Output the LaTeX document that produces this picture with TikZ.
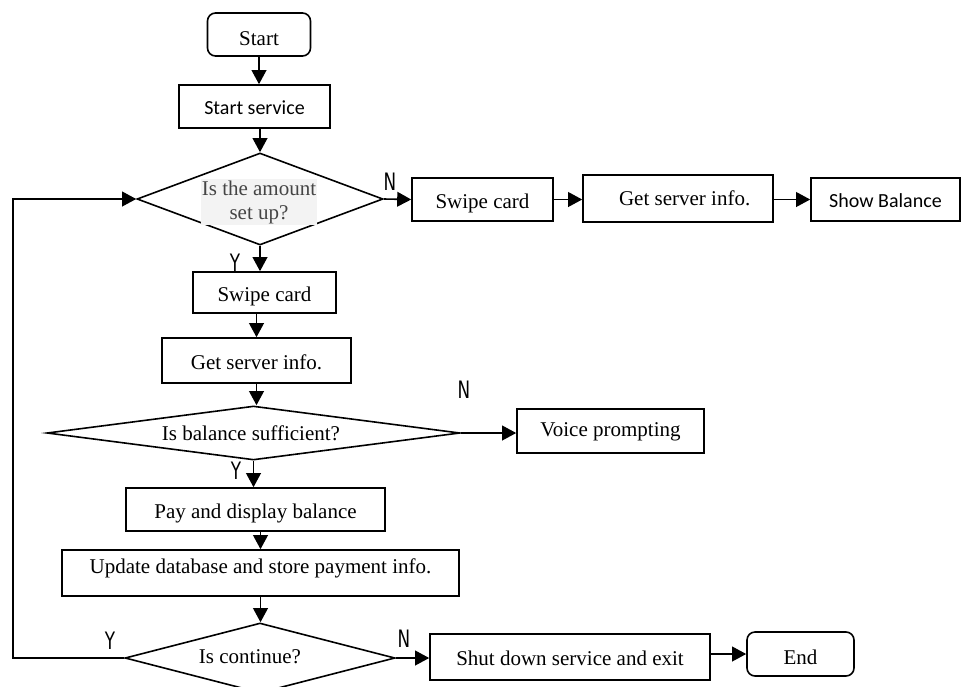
\documentclass[tikz,border=0pt]{standalone}
\usepackage{fontspec}
\setmainfont{Liberation Serif}
\newfontfamily\calfont{Carlito}
\newfontfamily\ynfont[FakeStretch=0.7]{DejaVu Sans}
\usetikzlibrary{arrows.meta,shapes.geometric}
\definecolor{qgray}{HTML}{454545}
\definecolor{hlgray}{HTML}{F3F3F3}
\begin{document}
\begin{tikzpicture}[x=0.75pt,y=-0.75pt,
  box/.style={draw, line width=1.2pt, inner sep=0pt, text height=13.4pt, text depth=0pt,
    font=\fontsize{15.75}{18}\selectfont},
  cal/.style={font=\calfont\fontsize{15}{18}\selectfont, text height=12.7pt, text depth=0pt},
  rbox/.style={box, rounded corners=6pt},
  dia/.style={draw, diamond, line width=1.2pt, inner sep=0pt},
  txt/.style={font=\fontsize{15.75}{18}\selectfont, inner sep=0pt},
  yn/.style={font=\ynfont\fontsize{18}{20}\selectfont, inner sep=0pt},
  arr/.style={line width=1.2pt, -{Triangle[length=10.5pt,width=11pt]}},
]
\useasboundingbox (0,0) rectangle (963,686);

% nodes
\node[rbox, minimum width=77.25pt, minimum height=32.25pt, text height=16.4pt] (start) at (259,34.5) {Start};
\node[box, cal, minimum width=113.25pt, minimum height=32.25pt] (svc) at (254.5,106.5) {Start service};
\node[dia, minimum width=184.5pt, minimum height=69pt] (d1) at (260,199) {};
\node[txt, text=qgray, fill=hlgray, align=center, inner sep=1pt] (d1t) at (259,202) {Is the amount\\set up?};

\node[box, minimum width=105.75pt, minimum height=32.25pt] (sw1) at (482.5,199.5) {Swipe card};
\node[box, minimum width=142.5pt, minimum height=35.25pt, text height=10.4pt] (gs1) at (678,198.5) {\hspace*{10pt}Get server info.};
\node[box, cal, minimum width=111.75pt, minimum height=32.25pt] (sb) at (885.5,199.5) {Show Balance};

\node[box, minimum width=107.25pt, minimum height=30.75pt] (sw2) at (264.5,292.5) {Swipe card};
\node[box, minimum width=141.75pt, minimum height=33.75pt] (gs2) at (256.5,360.5) {Get server info.};
\node[dia, minimum width=309.75pt, minimum height=40.5pt] (d2) at (253.5,433) {};
\node[txt] (d2t) at (251,433) {Is balance sufficient?};
\node[box, minimum width=140.25pt, minimum height=33pt, text height=10.4pt, text depth=1.5pt] (vp) at (610.5,431) {Voice prompting};

\node[box, minimum width=194.25pt, minimum height=32.25pt] (pay) at (255.5,509.5) {Pay and display balance};
\node[box, minimum width=297.75pt, minimum height=34.5pt, text height=10.4pt, text depth=9.8pt] (upd) at (260.5,573) {Update database and store payment info.};
\node[dia, minimum width=202.5pt, minimum height=52.5pt] (d3) at (260,658) {};
\node[txt] (d3t) at (250,657) {Is continue?};
\node[box, minimum width=210pt, minimum height=34.5pt] (sd) at (570,657) {Shut down service and exit};
\node[rbox, minimum width=80.25pt, minimum height=33pt, text height=15pt] (end) at (800.5,654) {End};

\coordinate (loop) at (13,430);

% labels
\node[yn] (n1) at (390,182) {N};
\node[yn] (y1) at (235,263) {Y};
\node[yn] (n2) at (464,390) {N};
\node[yn] (y2) at (236,471) {Y};
\node[yn] (y3) at (110,641) {Y};
\node[yn] (n3) at (404,639) {N};

% connectors
\draw[arr] (start.south) -- (start.south |- svc.north);
\draw[arr] (d1.north |- svc.south) -- (d1.north);
\draw[arr] (d1.east) -- (sw1.west);
\draw[arr] (sw1.east) -- (sw1.east -| gs1.west);
\draw[arr] (gs1.east |- sb.west) -- (sb.west);
\draw[arr] (d1.south) -- (d1.south |- sw2.north);
\draw[arr] (gs2.north |- sw2.south) -- (gs2.north);
\draw[arr] (gs2.south) -- (gs2.south |- d2.north);
\draw[arr] (d2.east) -- (d2.east -| vp.west);
\draw[arr] (d2.south) -- (d2.south |- pay.north);
\draw[arr] (upd.north |- pay.south) -- (upd.north);
\draw[arr] (upd.south) -- (upd.south |- d3.north);
\draw[arr] (d3.east) -- (d3.east -| sd.west);
\draw[arr] (sd.east |- end.west) -- (end.west);
\draw[arr] (d3.west) -- (d3.west -| loop) -- (d1.west -| loop) -- (d1.west);
\end{tikzpicture}
\end{document}
